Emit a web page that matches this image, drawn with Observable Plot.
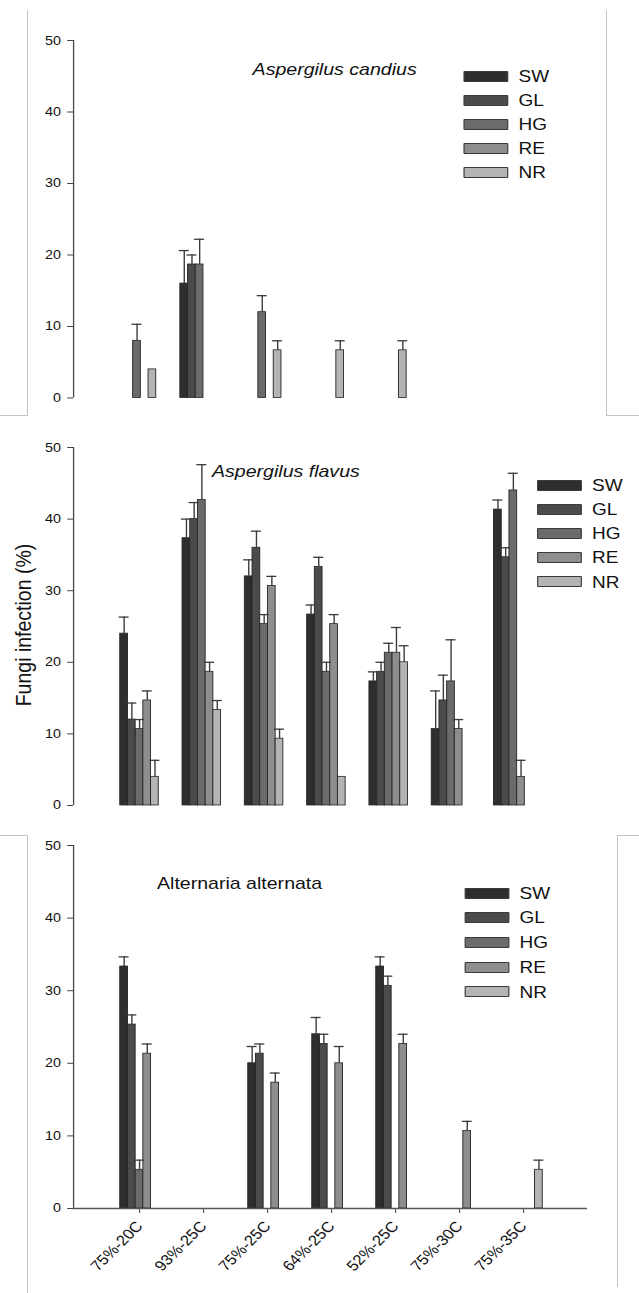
<!DOCTYPE html>
<html>
<head>
<meta charset="utf-8">
<script src="https://cdn.jsdelivr.net/npm/d3@7"></script>
<script src="https://cdn.jsdelivr.net/npm/@observablehq/plot@0.6"></script>
<style>
  html, body { margin: 0; padding: 0; background: #fff; }
  #page { position: relative; width: 639px; height: 1293px; overflow: hidden; font-family: "Liberation Sans", Arial, sans-serif; color: #111; }
  #stretch { position: absolute; left: 0; top: 0; height: 1293px; transform-origin: 0 0; }
  .abs { position: absolute; }
  .title { position: absolute; font-size: 17px; line-height: 1; white-space: nowrap; color: #111; }
  .sw { position: absolute; box-sizing: border-box; border: 1.3px solid #3a3a3a; border-radius: 1px; }
  .lt { position: absolute; font-size: 16.5px; line-height: 1; white-space: nowrap; color: #111; }
  .line { position: absolute; background: #c4c4c4; }
</style>
</head>
<body>
<div id="page">
  <div id="stretch"></div>
</div>
<script>
// ---------------- data ----------------
const conditions = ["75%-20C", "93%-25C", "75%-25C", "64%-25C", "52%-25C", "75%-30C", "75%-35C"];
const series = ["SW", "GL", "HG", "RE", "NR"];
const colors = ["#2e2e2e", "#4b4b4b", "#6b6b6b", "#8e8e8e", "#b4b4b4"];
const yTicks = [0, 10, 20, 30, 40, 50];

// Aspergilus candius (rows: SW, GL, HG, RE, NR; columns: conditions)
const candiusMeans = [
  [0, 16.0, 0, 0, 0, 0, 0],
  [0, 18.67, 0, 0, 0, 0, 0],
  [8.0, 18.67, 12.0, 0, 0, 0, 0],
  [0, 0, 0, 0, 0, 0, 0],
  [4.0, 0, 6.67, 6.67, 6.67, 0, 0]
];
const candiusErrors = [
  [0, 4.62, 0, 0, 0, 0, 0],
  [0, 1.33, 0, 0, 0, 0, 0],
  [2.31, 3.53, 2.31, 0, 0, 0, 0],
  [0, 0, 0, 0, 0, 0, 0],
  [0, 0, 1.33, 1.33, 1.33, 0, 0]
];

// Aspergilus flavus
const flavusMeans = [
  [24.0, 37.33, 32.0, 26.67, 17.33, 10.67, 41.33],
  [12.0, 40.0, 36.0, 33.33, 18.67, 14.67, 34.67],
  [10.67, 42.67, 25.33, 18.67, 21.33, 17.33, 44.0],
  [14.67, 18.67, 30.67, 25.33, 21.33, 10.67, 4.0],
  [4.0, 13.33, 9.33, 4.0, 20.0, 0, 0]
];
const flavusErrors = [
  [2.31, 2.67, 2.31, 1.33, 1.33, 5.33, 1.33],
  [2.31, 2.31, 2.31, 1.33, 1.33, 3.53, 1.33],
  [1.33, 4.93, 1.33, 1.33, 1.33, 5.81, 2.4],
  [1.33, 1.33, 1.33, 1.33, 3.53, 1.33, 2.31],
  [2.31, 1.33, 1.33, 0, 2.31, 0, 0]
];

// Alternaria alternata
const alternataMeans = [
  [33.33, 0, 20.0, 24.0, 33.33, 0, 0],
  [25.33, 0, 21.33, 22.67, 30.67, 0, 0],
  [5.33, 0, 0, 0, 0, 0, 0],
  [21.33, 0, 17.33, 20.0, 22.67, 10.67, 0],
  [0, 0, 0, 0, 0, 0, 5.33]
];
const alternataErrors = [
  [1.33, 0, 2.31, 2.31, 1.33, 0, 0],
  [1.33, 0, 1.33, 1.33, 1.33, 0, 0],
  [1.33, 0, 0, 0, 0, 0, 0],
  [1.33, 0, 1.33, 2.31, 1.33, 1.33, 0],
  [0, 0, 0, 0, 0, 0, 1.33]
];

const panelTitles = ["Aspergilus candius", "Aspergilus flavus", "Alternaria alternata"];
const yLabel = "Fungi infection (%)";

// ---------------- layout ----------------
const S = 1.15;            // horizontal stretch of the reference picture
const W = 639 / S;
const u = x => x / S;      // real px -> unstretched px
const AXIS_X = 73, END_X = 587, BAR = 7.7, CAP = 5;
// rotate so that the label appears at 45 degrees after the horizontal stretch
const LABEL_ROTATE = -Math.atan(S) * 180 / Math.PI;

const panels = [
  {means: candiusMeans, errors: candiusErrors, c0: 136.5, step: 62.6, top: 0, height: 420, mt: 40, mb: 22.5, xAxis: false,
   title: {x: 252.6, base: 75.5, italic: true}, legend: {x: 463, tx: 518.5, y0: 76, dy: 24.1}},
  {means: flavusMeans, errors: flavusErrors, c0: 139, step: 62.3, top: 420, height: 400, mt: 27, mb: 15, xAxis: false,
   title: {x: 212, base: 477, italic: true}, legend: {x: 537, tx: 592, y0: 485, dy: 24.2}},
  {means: alternataMeans, errors: alternataErrors, c0: 139, step: 64, top: 820, height: 473, mt: 25, mb: 85, xAxis: true,
   title: {x: 157, base: 889, italic: false}, legend: {x: 464.5, tx: 519.5, y0: 893, dy: 24.7}}
];

const stretch = document.getElementById("stretch");
stretch.style.width = W + "px";
stretch.style.transform = `scaleX(${S})`;

function makePanel(p) {
  const rows = [];
  series.forEach((s, k) => conditions.forEach((c, i) => {
    const v = p.means[k][i];
    if (v > 0) rows.push({i, k, series: s, condition: c, value: v, err: p.errors[k][i]});
  }));
  const bw = BAR / p.step;
  const cap = CAP / p.step;
  const d0 = (AXIS_X - p.c0) / p.step;
  const d1 = (END_X - p.c0) / p.step;
  const errs = rows.filter(d => d.err > 0);
  const cx = d => d.i + (d.k - 2) * bw;
  const marks = [
    Plot.rectY(rows, {
      x1: d => d.i + (d.k - 2.5) * bw, x2: d => d.i + (d.k - 1.5) * bw,
      y1: 0, y2: "value", fill: "series", stroke: "#262626", strokeWidth: 0.8
    }),
    Plot.ruleX(errs, {x: cx, y1: "value", y2: d => d.value + d.err, stroke: "#3a3a3a", strokeWidth: 1.2}),
    Plot.ruleY(errs, {x1: d => cx(d) - cap, x2: d => cx(d) + cap, y: d => d.value + d.err, stroke: "#3a3a3a", strokeWidth: 1.3}),
    Plot.ruleX([d0], {y1: 0, y2: 50, stroke: "#444", strokeWidth: 1.1}),
    Plot.axisY({ticks: yTicks, tickSize: 5, tickPadding: 6, fontSize: 12.5, label: null, stroke: "#444", fill: "#111"})
  ];
  if (p.xAxis) {
    marks.push(Plot.ruleY([0], {stroke: "#555", strokeWidth: 1.5}));
    marks.push(Plot.axisX({ticks: d3.range(conditions.length), tickFormat: i => conditions[i],
      tickRotate: LABEL_ROTATE, tickSize: 5, tickPadding: 10, fontSize: 14.5, label: null, stroke: "#555", fill: "#111"}));
  }
  const chart = Plot.plot({
    width: W, height: p.height,
    marginTop: p.mt, marginBottom: p.mb, marginLeft: u(AXIS_X), marginRight: W - u(END_X),
    x: {domain: [d0, d1], axis: p.xAxis ? undefined : null},
    y: {domain: [0, 50]},
    color: {domain: series, range: colors},
    style: {fontFamily: "'Liberation Sans', Arial, sans-serif", color: "#111", background: "transparent", overflow: "visible"},
    marks
  });
  const holder = document.createElement("div");
  holder.className = "abs";
  holder.style.left = "0px";
  holder.style.top = p.top + "px";
  holder.style.width = W + "px";
  holder.appendChild(chart);
  stretch.appendChild(holder);
}

panels.forEach((p, n) => {
  makePanel(p);
  // title
  const t = document.createElement("div");
  t.className = "title";
  t.textContent = panelTitles[n];
  t.style.left = u(p.title.x) + "px";
  t.style.top = (p.title.base - 0.8465 * 17) + "px";
  if (p.title.italic) t.style.fontStyle = "italic";
  stretch.appendChild(t);
  // legend
  series.forEach((s, k) => {
    const cy = p.legend.y0 + k * p.legend.dy;
    const sw = document.createElement("div");
    sw.className = "sw";
    sw.style.left = u(p.legend.x) + "px";
    sw.style.top = (cy - 5.5) + "px";
    sw.style.width = u(45) + "px";
    sw.style.height = "11px";
    sw.style.background = colors[k];
    stretch.appendChild(sw);
    const lt = document.createElement("div");
    lt.className = "lt";
    lt.textContent = s;
    lt.style.left = u(p.legend.tx) + "px";
    lt.style.top = (cy - 16.5 / 2) + "px";
    stretch.appendChild(lt);
  });
});

// y label
const yl = document.createElement("div");
yl.className = "abs";
yl.textContent = yLabel;
yl.style.cssText = `position:absolute; left:${u(24)}px; top:625px; font-size:19.5px; line-height:1; white-space:nowrap; color:#111; transform: translate(-50%, -50%) rotate(-90deg);`;
stretch.appendChild(yl);

// panel frame fragments (real px)
const page = document.getElementById("page");
const lines = [
  [27, 10, 1, 405], [0, 415, 28, 1], [606, 10, 1, 405], [606, 415, 33, 1],
  [0, 835, 28, 1], [27, 835, 1, 458], [617, 835, 22, 1], [617, 835, 1, 452]
];
lines.forEach(([x, y, w, h]) => {
  const d = document.createElement("div");
  d.className = "line";
  d.style.cssText += `left:${x}px; top:${y}px; width:${w}px; height:${h}px;`;
  page.appendChild(d);
});
</script>
</body>
</html>
